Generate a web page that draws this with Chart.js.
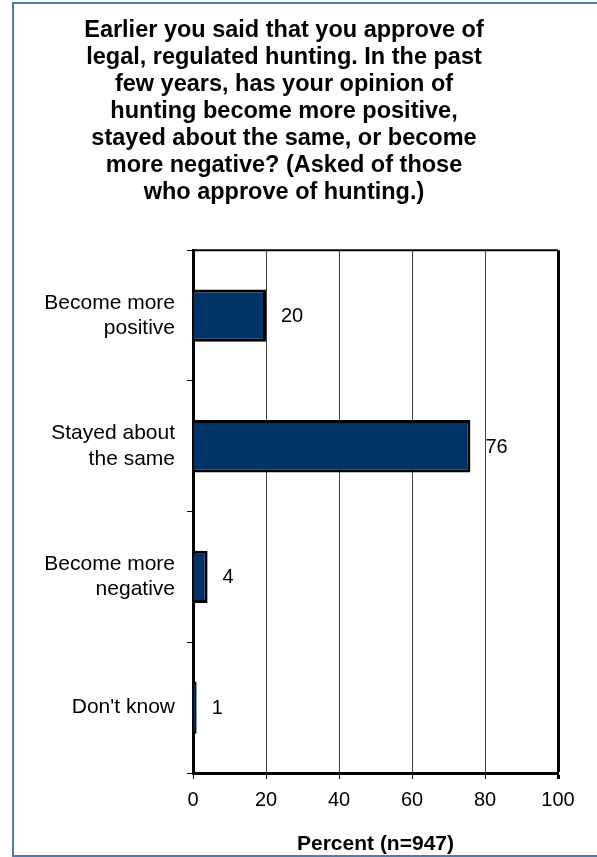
<!DOCTYPE html>
<html lang="en">
<head>
  <meta charset="UTF-8">
  <title>Opinion of hunting</title>
  <script src="https://cdn.jsdelivr.net/npm/chart.js"></script>
  <style>
    body, html {
      margin: 0;
      padding: 0;
      background: #fff;
      overflow: hidden;
    }
    #frame {
      position: absolute;
      left: 12px;
      top: 2px;
      width: 600px;
      height: 851px;
      border: 2px solid #4f7bb7;
    }
    #chart {
      position: absolute;
      left: 0;
      top: 0;
    }
  </style>
</head>
<body>
  <div id="frame"></div>
  <canvas id="chart" width="597" height="857"></canvas>

  <script>
    // chart data
    var titleLines = [
      'Earlier you said that you approve of',
      'legal, regulated hunting. In the past',
      'few years, has your opinion of',
      'hunting become more positive,',
      'stayed about the same, or become',
      'more negative? (Asked of those',
      'who approve of hunting.)'
    ];
    var categories = [
      ['Become more', 'positive'],
      ['Stayed about', 'the same'],
      ['Become more', 'negative'],
      "Don't know"
    ];
    var percents = [20, 76, 4, 1];
    var axisTitle = 'Percent (n=947)';

    var fontFamily = '"Liberation Sans", Arial, sans-serif';

    // draws the value to the right of each bar + top frame line
    var valueLabels = {
      id: 'valueLabels',
      afterDatasetsDraw: function(chart) {
        var ctx = chart.ctx;
        var area = chart.chartArea;
        ctx.save();
        ctx.strokeStyle = '#000';
        ctx.lineWidth = 2;
        ctx.beginPath();
        ctx.moveTo(area.left, area.top);
        ctx.lineTo(area.right, area.top);
        ctx.stroke();

        ctx.font = '20px ' + fontFamily;
        ctx.fillStyle = '#000';
        ctx.textBaseline = 'middle';
        ctx.textAlign = 'left';
        chart.getDatasetMeta(0).data.forEach(function(bar, i) {
          ctx.fillText(percents[i], bar.x + 15, bar.y + 1);
        });
        ctx.restore();
      }
    };

    var ctx = document.getElementById('chart').getContext('2d');
    var chart = new Chart(ctx, {
      type: 'bar',
      data: {
        labels: categories,
        datasets: [{
          data: percents,
          backgroundColor: '#003366',
          borderColor: '#000',
          borderWidth: 3,
          barPercentage: 0.4,
          categoryPercentage: 1
        }]
      },
      options: {
        indexAxis: 'y',
        responsive: false,
        animation: false,
        layout: {
          padding: { left: 10, right: 39, top: 0, bottom: 0 }
        },
        scales: {
          x: {
            min: 0,
            max: 100,
            ticks: {
              stepSize: 20,
              color: '#000',
              padding: 9,
              font: { family: fontFamily, size: 20 }
            },
            grid: {
              color: function(c) { return c.tick && c.tick.value === 100 ? '#000' : '#444'; },
              lineWidth: function(c) { return c.tick && c.tick.value === 100 ? 3 : 1; },
              tickColor: '#000',
              tickLength: 6
            },
            border: { color: '#000', width: 3 },
            title: {
              display: true,
              text: axisTitle,
              color: '#000',
              font: { family: fontFamily, size: 21, weight: 'bold' },
              padding: { top: 21, bottom: 0 }
            },
            afterFit: function(scale) {
              scale.height = 84;
            }
          },
          y: {
            ticks: {
              color: '#000',
              padding: 12,
              font: { family: fontFamily, size: 21 }
            },
            grid: {
              drawOnChartArea: false,
              tickColor: '#000',
              tickLength: 6
            },
            border: { color: '#000', width: 3 },
            afterFit: function(scale) {
              scale.width = 183;
            }
          }
        },
        plugins: {
          legend: { display: false },
          tooltip: { enabled: false },
          title: {
            display: true,
            text: titleLines,
            color: '#000',
            font: { family: fontFamily, size: 23.5, weight: 'bold', lineHeight: 1.15 },
            padding: { top: 17, bottom: 44 }
          }
        }
      },
      plugins: [valueLabels]
    });
  </script>
</body>
</html>
